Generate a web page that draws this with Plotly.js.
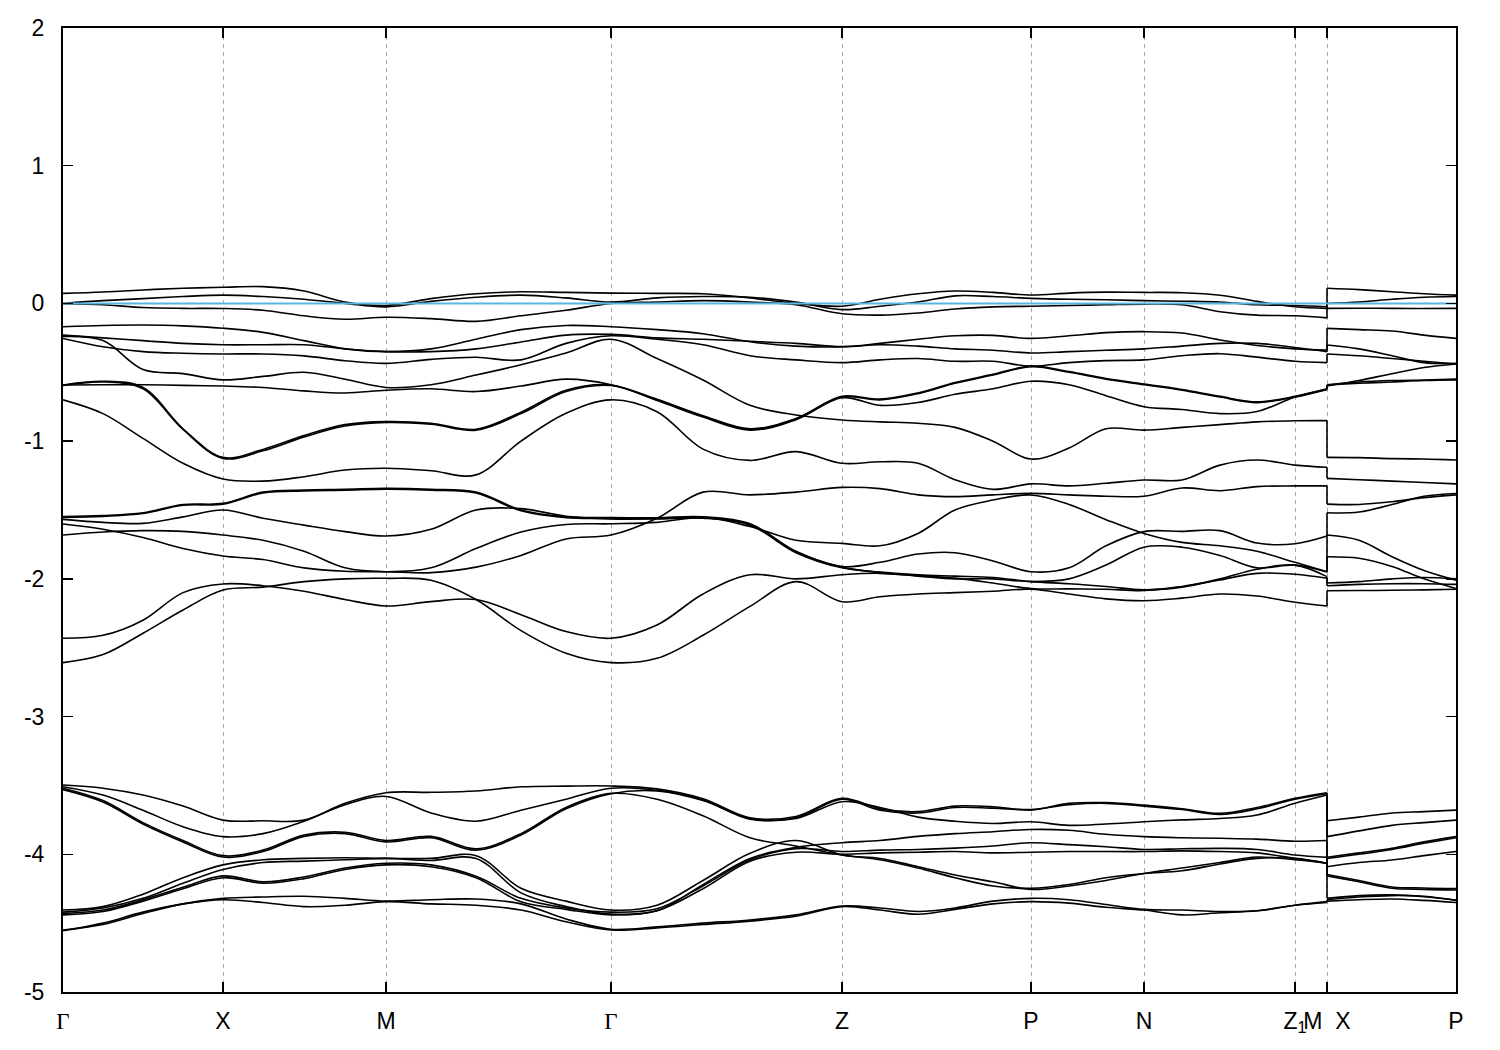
<!DOCTYPE html>
<html><head><meta charset="utf-8">
<script src="https://cdn.plot.ly/plotly-3.0.1.min.js"></script>
<style>html,body{margin:0;padding:0;background:#fff}</style>
</head><body><div id="chart" style="width:1500px;height:1050px"></div>
<script>
// k-path coordinate (index 31 = M, index 32 = X at the same path position)
const kPath = [0,0.40,0.80,1.20,1.60,2.00,2.41,2.82,3.23,3.68,4.13,4.58,5.03,5.48,5.94,6.40,6.87,7.33,7.79,8.17,8.55,8.92,9.30,9.68,10.06,10.43,10.81,11.19,11.57,11.94,12.32,12.64, 12.64,12.96,13.29,13.61,13.93];
const kTicks = [0,1.60,3.23,5.48,7.79,9.68,10.81,12.32,12.64,13.93];
const kLabels = ['Γ','X','M','Γ','Z','P','N','Z<sub>1</sub>','M\u00a0\u00a0X','P'];
const eTicks = [-5,-4,-3,-2,-1,0,1,2];
const eLabels = ['-5','-4','-3','-2','-1','0','1','2'];
const fermiLevel = 0;

// band energies (eV)
const bandT1 = [0.073,0.083,0.098,0.110,0.117,0.122,0.09,0.01,-0.015,0.035,0.07,0.085,0.08,0.075,0.073,0.07,0.04,0.0,-0.02,0.03,0.07,0.09,0.08,0.061,0.075,0.082,0.08,0.078,0.06,0.015,-0.024,-0.036, 0.11,0.10,0.085,0.07,0.06];
const bandT2 = [0.0,0.02,0.035,0.05,0.06,0.05,0.03,0.0,-0.025,0.015,0.045,0.06,0.04,0.01,0.04,0.05,0.045,0.01,-0.045,-0.02,0.01,0.055,0.05,0.037,0.03,0.027,0.02,0.016,0.01,-0.01,-0.015,-0.024, 0.0,0.01,0.03,0.045,0.05];
const bandT3 = [-0.002,-0.01,-0.03,-0.036,-0.037,-0.05,-0.09,-0.115,-0.10,-0.11,-0.13,-0.09,-0.05,0.0,0.01,0.02,0.01,-0.01,-0.075,-0.085,-0.07,-0.04,-0.025,-0.02,-0.015,-0.01,-0.005,-0.01,-0.06,-0.085,-0.09,-0.105, -0.036,-0.035,-0.036,-0.037,-0.036];
const bandS1 = [-0.169,-0.160,-0.157,-0.163,-0.18,-0.21,-0.27,-0.33,-0.35,-0.33,-0.26,-0.19,-0.16,-0.169,-0.19,-0.22,-0.278,-0.31,-0.315,-0.29,-0.26,-0.235,-0.232,-0.254,-0.235,-0.212,-0.205,-0.215,-0.265,-0.305,-0.33,-0.338, -0.181,-0.19,-0.20,-0.23,-0.254];
const bandS2 = [-0.23,-0.25,-0.27,-0.29,-0.30,-0.30,-0.30,-0.33,-0.35,-0.35,-0.33,-0.28,-0.23,-0.225,-0.25,-0.26,-0.275,-0.29,-0.314,-0.30,-0.31,-0.33,-0.34,-0.36,-0.35,-0.34,-0.33,-0.31,-0.29,-0.29,-0.32,-0.35, -0.302,-0.33,-0.38,-0.43,-0.435];
const bandS3 = [-0.254,-0.314,-0.35,-0.362,-0.367,-0.367,-0.381,-0.416,-0.435,-0.406,-0.391,-0.41,-0.29,-0.235,-0.26,-0.30,-0.38,-0.41,-0.43,-0.41,-0.40,-0.42,-0.42,-0.455,-0.43,-0.415,-0.41,-0.38,-0.365,-0.39,-0.42,-0.43, -0.367,-0.38,-0.40,-0.42,-0.44];
const bandS4 = [-0.24,-0.27,-0.48,-0.51,-0.555,-0.53,-0.50,-0.55,-0.61,-0.59,-0.52,-0.445,-0.36,-0.26,-0.40,-0.556,-0.74,-0.81,-0.846,-0.86,-0.87,-0.90,-1.0,-1.13,-1.05,-0.91,-0.92,-0.90,-0.88,-0.86,-0.852,-0.851, -1.118,-1.12,-1.127,-1.13,-1.137];
const bandF  = [-0.592,-0.59,-0.59,-0.595,-0.60,-0.61,-0.635,-0.65,-0.63,-0.62,-0.64,-0.60,-0.55,-0.59,-0.695,-0.815,-0.91,-0.835,-0.675,-0.695,-0.65,-0.575,-0.515,-0.455,-0.495,-0.545,-0.585,-0.625,-0.675,-0.715,-0.675,-0.62, -0.592,-0.58,-0.57,-0.56,-0.556];
const bandDX1 = [-0.592,-0.565,-0.61,-0.91,-1.118,-1.06,-0.96,-0.88,-0.858,-0.87,-0.914,-0.79,-0.63,-0.592,-0.70,-0.82,-0.915,-0.84,-0.68,-0.70,-0.655,-0.58,-0.52,-0.46,-0.50,-0.55,-0.59,-0.63,-0.68,-0.72,-0.68,-0.624, -0.59,-0.57,-0.56,-0.556,-0.55];
const bandDX2 = [-0.596,-0.57,-0.62,-0.915,-1.125,-1.07,-0.97,-0.89,-0.864,-0.877,-0.92,-0.80,-0.64,-0.596,-0.705,-0.825,-0.92,-0.845,-0.685,-0.74,-0.72,-0.66,-0.62,-0.565,-0.59,-0.67,-0.75,-0.77,-0.80,-0.785,-0.68,-0.624, -0.60,-0.56,-0.51,-0.465,-0.44];
const bandE7 = [-0.70,-0.80,-0.98,-1.161,-1.275,-1.29,-1.258,-1.21,-1.197,-1.215,-1.245,-1.0,-0.798,-0.70,-0.786,-1.058,-1.14,-1.076,-1.161,-1.15,-1.16,-1.28,-1.35,-1.31,-1.325,-1.306,-1.282,-1.282,-1.174,-1.137,-1.174,-1.19, -1.27,-1.28,-1.29,-1.30,-1.31];
const bandM1 = [-1.548,-1.54,-1.52,-1.46,-1.452,-1.37,-1.355,-1.35,-1.343,-1.35,-1.37,-1.50,-1.55,-1.555,-1.556,-1.55,-1.60,-1.80,-1.91,-1.88,-1.82,-1.81,-1.87,-1.948,-1.92,-1.76,-1.657,-1.655,-1.65,-1.74,-1.745,-1.689, -1.682,-1.72,-1.84,-1.94,-2.01];
const bandM2 = [-1.568,-1.59,-1.597,-1.55,-1.50,-1.56,-1.61,-1.657,-1.689,-1.64,-1.50,-1.49,-1.545,-1.565,-1.565,-1.56,-1.61,-1.81,-1.92,-1.95,-1.97,-1.98,-1.99,-2.02,-2.035,-2.055,-2.08,-2.06,-2.0,-1.93,-1.90,-1.984, -2.03,-2.02,-2.0,-1.99,-2.0];
const bandM3 = [-1.602,-1.64,-1.70,-1.78,-1.834,-1.86,-1.92,-1.945,-1.948,-1.955,-1.915,-1.83,-1.71,-1.682,-1.56,-1.37,-1.39,-1.37,-1.336,-1.345,-1.39,-1.403,-1.39,-1.379,-1.39,-1.40,-1.40,-1.34,-1.36,-1.33,-1.325,-1.325, -1.457,-1.46,-1.44,-1.41,-1.39];
const bandM4 = [-1.682,-1.66,-1.65,-1.655,-1.682,-1.72,-1.80,-1.92,-1.948,-1.92,-1.78,-1.66,-1.605,-1.60,-1.59,-1.555,-1.62,-1.72,-1.742,-1.76,-1.67,-1.50,-1.428,-1.391,-1.46,-1.57,-1.67,-1.735,-1.76,-1.80,-1.88,-1.948, -1.839,-1.85,-1.91,-2.0,-2.07];
const bandM5 = [-2.431,-2.41,-2.30,-2.10,-2.037,-2.05,-2.09,-2.15,-2.197,-2.165,-2.15,-2.26,-2.383,-2.431,-2.335,-2.11,-1.97,-2.0,-1.97,-1.96,-1.98,-2.0,-2.0,-2.02,-2.0,-1.90,-1.77,-1.77,-1.83,-1.92,-1.90,-1.95, -1.52,-1.515,-1.46,-1.40,-1.38];
const bandM6 = [-2.608,-2.55,-2.395,-2.226,-2.081,-2.06,-2.02,-2.0,-1.996,-2.01,-2.15,-2.376,-2.54,-2.608,-2.577,-2.41,-2.2,-2.02,-2.166,-2.13,-2.11,-2.10,-2.09,-2.075,-2.11,-2.145,-2.159,-2.14,-2.11,-2.125,-2.17,-2.197, -2.086,-2.085,-2.083,-2.08,-2.076];
const bandM7 = [-1.554,-1.546,-1.526,-1.466,-1.458,-1.376,-1.361,-1.356,-1.349,-1.356,-1.376,-1.506,-1.556,-1.561,-1.562,-1.556,-1.605,-1.805,-1.915,-1.955,-1.975,-1.995,-2.03,-2.07,-2.073,-2.075,-2.085,-2.055,-2.008,-1.96,-1.967,-1.996, -2.05,-2.04,-2.035,-2.035,-2.04];
const bandB1 = [-3.497,-3.52,-3.57,-3.65,-3.752,-3.757,-3.752,-3.63,-3.553,-3.55,-3.54,-3.51,-3.505,-3.504,-3.525,-3.597,-3.735,-3.725,-3.594,-3.67,-3.69,-3.65,-3.655,-3.679,-3.63,-3.625,-3.643,-3.67,-3.703,-3.66,-3.594,-3.553, -3.757,-3.73,-3.70,-3.69,-3.679];
const bandB2 = [-3.509,-3.57,-3.68,-3.80,-3.872,-3.85,-3.76,-3.64,-3.58,-3.70,-3.76,-3.68,-3.60,-3.52,-3.535,-3.605,-3.745,-3.735,-3.60,-3.68,-3.70,-3.66,-3.665,-3.675,-3.64,-3.63,-3.65,-3.675,-3.71,-3.67,-3.60,-3.56, -4.03,-4.0,-3.965,-3.92,-3.88];
const bandB3 = [-3.52,-3.61,-3.77,-3.90,-4.01,-3.97,-3.86,-3.84,-3.90,-3.87,-3.96,-3.85,-3.66,-3.558,-3.60,-3.72,-3.88,-3.94,-4.005,-4.04,-4.10,-4.17,-4.23,-4.247,-4.22,-4.17,-4.14,-4.12,-4.07,-4.03,-4.03,-4.065, -4.157,-4.20,-4.247,-4.255,-4.259];
const bandB4 = [-3.53,-3.62,-3.78,-3.91,-4.02,-3.98,-3.87,-3.85,-3.91,-3.88,-3.97,-3.86,-3.67,-3.56,-3.54,-3.61,-3.74,-3.74,-3.618,-3.66,-3.73,-3.76,-3.776,-3.764,-3.79,-3.78,-3.764,-3.75,-3.74,-3.715,-3.63,-3.57, -3.872,-3.83,-3.79,-3.77,-3.752];
const bandB5 = [-4.405,-4.38,-4.29,-4.17,-4.077,-4.04,-4.03,-4.025,-4.03,-4.03,-4.01,-4.247,-4.34,-4.405,-4.37,-4.19,-3.993,-3.90,-4.005,-4.03,-4.09,-4.15,-4.20,-4.255,-4.23,-4.19,-4.14,-4.10,-4.06,-4.02,-4.04,-4.065, -4.147,-4.19,-4.237,-4.245,-4.249];
const bandB6 = [-4.42,-4.39,-4.32,-4.21,-4.11,-4.06,-4.05,-4.04,-4.03,-4.045,-4.03,-4.28,-4.38,-4.434,-4.41,-4.22,-4.03,-3.95,-3.916,-3.90,-3.87,-3.85,-3.836,-3.82,-3.826,-3.855,-3.872,-3.88,-3.884,-3.89,-3.905,-3.90, -4.32,-4.30,-4.295,-4.308,-4.332];
const bandB7 = [-4.43,-4.405,-4.33,-4.24,-4.157,-4.20,-4.165,-4.10,-4.065,-4.077,-4.16,-4.32,-4.39,-4.42,-4.395,-4.23,-4.04,-3.96,-3.98,-3.97,-3.965,-3.955,-3.94,-3.916,-3.93,-3.945,-3.965,-3.96,-3.957,-3.965,-4.005,-4.022, -4.09,-4.06,-4.041,-4.01,-3.98];
const bandB8 = [-4.44,-4.415,-4.34,-4.25,-4.17,-4.21,-4.177,-4.11,-4.077,-4.09,-4.17,-4.345,-4.40,-4.44,-4.41,-4.25,-4.05,-3.985,-4.0,-3.99,-3.985,-3.98,-3.99,-3.985,-3.98,-3.98,-3.98,-3.975,-3.98,-3.99,-4.03,-4.065, -4.022,-3.99,-3.957,-3.91,-3.872];
const bandB9 = [-4.55,-4.51,-4.43,-4.36,-4.32,-4.31,-4.305,-4.32,-4.34,-4.33,-4.325,-4.36,-4.47,-4.544,-4.527,-4.50,-4.477,-4.44,-4.376,-4.39,-4.415,-4.39,-4.34,-4.32,-4.33,-4.365,-4.40,-4.405,-4.415,-4.41,-4.37,-4.344, -4.33,-4.31,-4.30,-4.305,-4.335];
const bandB10 = [-4.555,-4.50,-4.42,-4.36,-4.33,-4.35,-4.38,-4.37,-4.344,-4.36,-4.37,-4.405,-4.49,-4.55,-4.535,-4.51,-4.485,-4.45,-4.38,-4.405,-4.435,-4.40,-4.36,-4.344,-4.355,-4.385,-4.405,-4.44,-4.425,-4.41,-4.37,-4.35, -4.34,-4.33,-4.325,-4.335,-4.35];

const bandList = [bandT1,bandT2,bandT3,bandS1,bandS2,bandS3,bandS4,bandF,bandDX1,bandDX2,bandE7,
  bandM1,bandM2,bandM3,bandM4,bandM5,bandM6,bandM7,
  bandB1,bandB2,bandB3,bandB4,bandB5,bandB6,bandB7,bandB8,bandB9,bandB10];

const SPLIT = 32; // first index after the M|X discontinuity
const xs = [], ys = [], jx = [], jy = [];
for (const b of bandList) {
  for (let i = 0; i < SPLIT; i++) { xs.push(kPath[i]); ys.push(b[i]); }
  xs.push(null); ys.push(null);
  for (let i = SPLIT; i < kPath.length; i++) { xs.push(kPath[i]); ys.push(b[i]); }
  xs.push(null); ys.push(null);
  jx.push(kPath[SPLIT-1], kPath[SPLIT], null);
  jy.push(b[SPLIT-1], b[SPLIT], null);
}

const traces = [
  {x: xs, y: ys, type: 'scatter', mode: 'lines', connectgaps: false, hoverinfo: 'skip',
   line: {color: '#000000', width: 1.6, shape: 'spline', smoothing: 1}},
  {x: jx, y: jy, type: 'scatter', mode: 'lines', connectgaps: false, hoverinfo: 'skip',
   line: {color: '#000000', width: 1.6}},
  {x: [kPath[0], kPath[kPath.length-1]], y: [fermiLevel, fermiLevel], type: 'scatter', mode: 'lines',
   hoverinfo: 'skip', line: {color: '#56B4E9', width: 2}}
];

const tickText = kLabels.map(t => t === 'Γ' ? '<span style="font-family:Liberation Serif">Γ</span>' : t);

const layout = {
  width: 1500, height: 1050,
  margin: {l: 63, r: 44, t: 28, b: 58, pad: 0},
  paper_bgcolor: '#ffffff', plot_bgcolor: '#ffffff',
  showlegend: false,
  font: {family: 'Liberation Sans, Arial, sans-serif', size: 23, color: '#000000'},
  xaxis: {
    range: [kPath[0], kPath[kPath.length-1]], tickmode: 'array', tickvals: kTicks, ticktext: tickText,
    tickangle: 0, automargin: false,
    ticks: 'inside', ticklen: 10, tickwidth: 1.5, tickcolor: '#000000',
    showline: true, linecolor: '#000000', linewidth: 2, mirror: 'ticks',
    showgrid: true, gridcolor: '#a8a8a8', gridwidth: 1, griddash: '4px,4px',
    zeroline: false, ticklabelstandoff: 7, fixedrange: true
  },
  yaxis: {
    range: [-5, 2], tickmode: 'array', tickvals: eTicks, ticktext: eLabels,
    tickangle: 0, automargin: false,
    ticks: 'inside', ticklen: 10, tickwidth: 1.5, tickcolor: '#000000',
    showline: true, linecolor: '#000000', linewidth: 2, mirror: 'ticks',
    showgrid: false, zeroline: false, ticklabelstandoff: 12, fixedrange: true
  }
};

Plotly.newPlot('chart', traces, layout, {displayModeBar: false, staticPlot: true});
</script></body></html>
